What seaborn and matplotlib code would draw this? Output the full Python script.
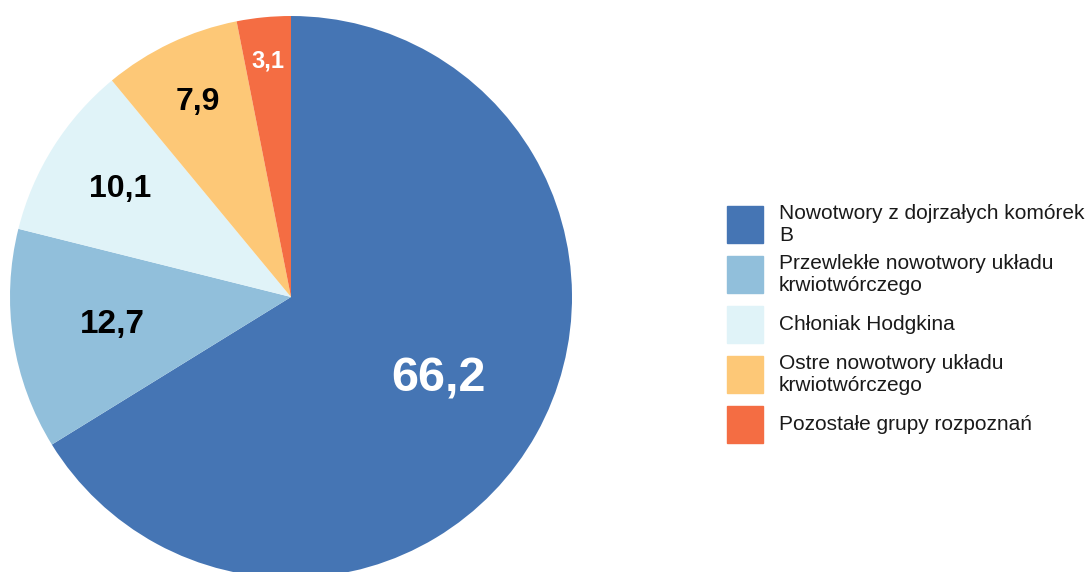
import numpy as np
import matplotlib.pyplot as plt
import seaborn as sns
from matplotlib.patches import Rectangle

# data
categories = [
    "Nowotwory z dojrzałych komórek\nB",
    "Przewlekłe nowotwory układu\nkrwiotwórczego",
    "Chłoniak Hodgkina",
    "Ostre nowotwory układu\nkrwiotwórczego",
    "Pozostałe grupy rozpoznań",
]
values = [66.2, 12.7, 10.1, 7.9, 3.1]
value_labels = ["66,2", "12,7", "10,1", "7,9", "3,1"]

colors = ["#4575b4", "#91bfdb", "#e0f3f8", "#fdc877", "#f46d43"]
label_colors = ["white", "black", "black", "black", "white"]
label_sizes = [35, 24, 23, 23, 17]
label_dist = [0.60, 0.645, 0.72, 0.77, 0.845]

sns.set_style("white")
plt.rcParams["font.family"] = ["Liberation Sans", "DejaVu Sans"]

W, H = 1087, 572
fig = plt.figure(figsize=(W / 100, H / 100), dpi=100)

# pie axes: center (291, 297) px, radius 281 px
cx, cy, r = 291, 297, 281
ax = fig.add_axes([(cx - r) / W, (H - cy - r) / H, 2 * r / W, 2 * r / H])
wedges, _ = ax.pie(values, colors=sns.color_palette(colors), startangle=90,
                   counterclock=False, radius=1.0,
                   wedgeprops=dict(linewidth=0))
ax.set_xlim(-1, 1)
ax.set_ylim(-1, 1)
ax.set_aspect("equal")
ax.axis("off")

for w, txt, c, s, d in zip(wedges, value_labels, label_colors, label_sizes, label_dist):
    ang = np.deg2rad((w.theta1 + w.theta2) / 2)
    ax.text(d * np.cos(ang), d * np.sin(ang), txt, ha="center", va="center",
            color=c, fontsize=s, fontweight="bold")

# legend, drawn by hand
for i, (lab, col) in enumerate(zip(categories, colors)):
    top = 206 + 50 * i
    fig.patches.append(Rectangle((727 / W, 1 - (top + 37) / H), 36 / W, 37 / H,
                                 transform=fig.transFigure, color=col))
    fig.text(779 / W, 1 - (top + 18.5) / H, lab, ha="left", va="center",
             fontsize=15, linespacing=1.2, color="#1a1a1a")

plt.savefig("out.png", dpi=100)
